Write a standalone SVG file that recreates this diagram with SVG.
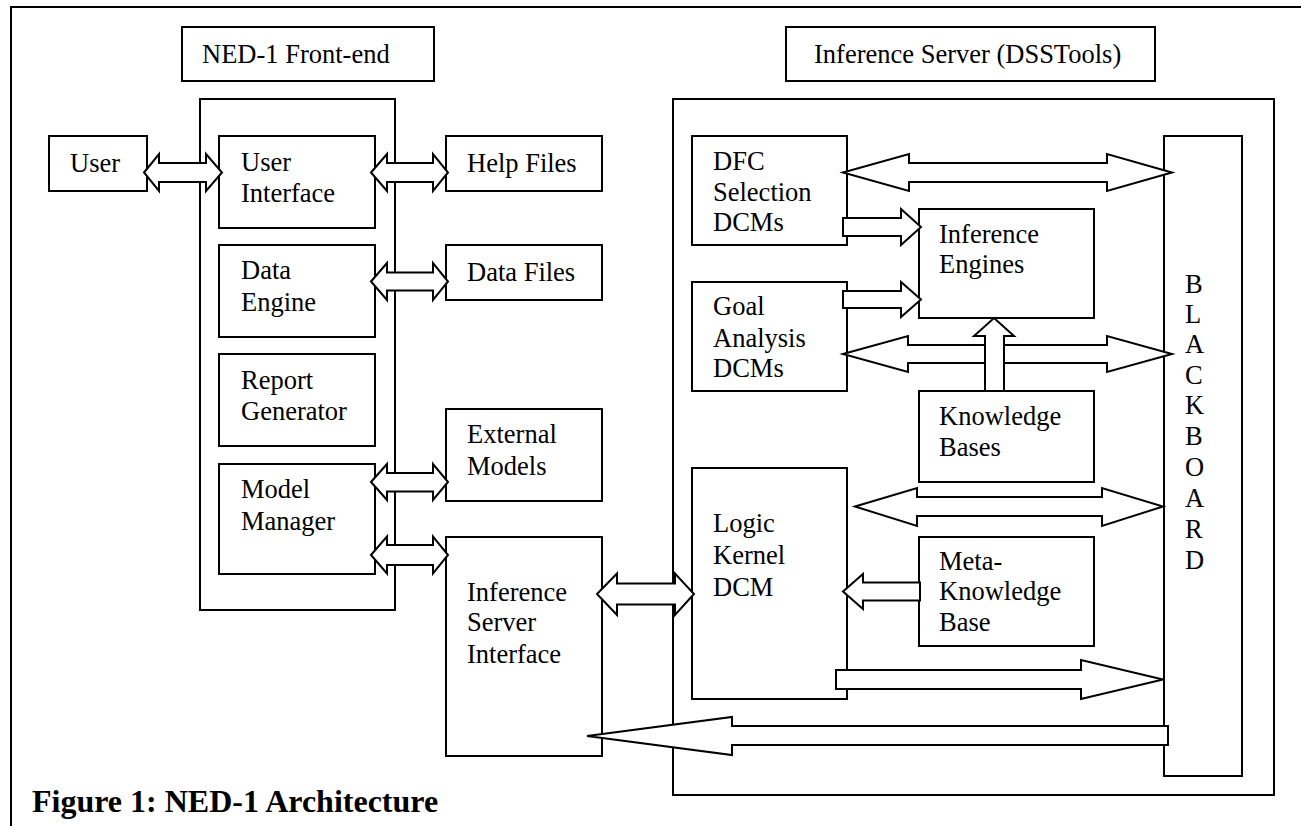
<svg xmlns="http://www.w3.org/2000/svg" width="1301" height="826" viewBox="0 0 1301 826">
<style>
rect,.ln{fill:none;stroke:#000;stroke-width:2}
.ar{fill:#fff;stroke:#000;stroke-width:2;stroke-linejoin:miter}
text{font-family:"Liberation Serif","Times New Roman",serif;font-size:26.5px;fill:#000}
.cap{font-weight:bold;font-size:32px}
</style>
<g id="frame">
<path class="ln" d="M11,826 V7 H1301"/>
</g>
<g id="title-frontend"><rect x="182" y="27" width="252" height="54"/><text x="202" y="63">NED-1 Front-end</text></g>
<g id="title-server"><rect x="786" y="27" width="369" height="54"/><text x="814" y="63">Inference Server (DSSTools)</text></g>
<g id="frontend-container"><rect x="200" y="99" width="195" height="511"/></g>
<g id="server-container"><rect x="673" y="99" width="601" height="696"/></g>
<g id="user"><rect x="49" y="136" width="98" height="55"/><text x="70" y="172">User</text></g>
<g id="user-interface"><rect x="219" y="136" width="156" height="92"/><text x="241" y="171">User</text><text x="241" y="202">Interface</text></g>
<g id="data-engine"><rect x="219" y="245" width="156" height="92"/><text x="241" y="279">Data</text><text x="241" y="311">Engine</text></g>
<g id="report-generator"><rect x="219" y="354" width="156" height="92"/><text x="241" y="389">Report</text><text x="241" y="420">Generator</text></g>
<g id="model-manager"><rect x="219" y="464" width="156" height="110"/><text x="241" y="498">Model</text><text x="241" y="530">Manager</text></g>
<g id="help-files"><rect x="446" y="136" width="156" height="55"/><text x="467" y="172">Help Files</text></g>
<g id="data-files"><rect x="446" y="245" width="156" height="55"/><text x="467" y="281">Data Files</text></g>
<g id="external-models"><rect x="446" y="409" width="156" height="92"/><text x="467" y="443">External</text><text x="467" y="475">Models</text></g>
<g id="inference-server-interface"><rect x="446" y="537" width="156" height="219"/><text x="467" y="601">Inference</text><text x="467" y="631">Server</text><text x="467" y="663">Interface</text></g>
<g id="dfc-selection"><rect x="692" y="136" width="155" height="109"/><text x="713" y="170">DFC</text><text x="713" y="201">Selection</text><text x="713" y="231">DCMs</text></g>
<g id="goal-analysis"><rect x="692" y="282" width="155" height="109"/><text x="713" y="315">Goal</text><text x="713" y="347">Analysis</text><text x="713" y="377">DCMs</text></g>
<g id="logic-kernel"><rect x="692" y="468" width="155" height="231"/><text x="713" y="532">Logic</text><text x="713" y="564">Kernel</text><text x="713" y="596">DCM</text></g>
<g id="inference-engines"><rect x="919" y="209" width="175" height="109"/><text x="939" y="243">Inference</text><text x="939" y="273">Engines</text></g>
<g id="knowledge-bases"><rect x="919" y="391" width="175" height="91"/><text x="939" y="425">Knowledge</text><text x="939" y="456">Bases</text></g>
<g id="meta-knowledge-base"><rect x="919" y="537" width="175" height="109"/><text x="939" y="570">Meta-</text><text x="939" y="600">Knowledge</text><text x="939" y="631">Base</text></g>
<g id="blackboard"><rect x="1164" y="136" width="78" height="640"/>
<text x="1185" y="293">B</text><text x="1185" y="323">L</text><text x="1185" y="353">A</text><text x="1185" y="384">C</text><text x="1185" y="414">K</text><text x="1185" y="445">B</text><text x="1185" y="476">O</text><text x="1185" y="507">A</text><text x="1185" y="538">R</text><text x="1185" y="569">D</text></g>
<g id="connectors">
<polygon class="ar" points="144,172.5 159,154 159,163 206,163 206,154 222,172.5 206,191 206,182 159,182 159,191"/>
<polygon class="ar" points="371,172.5 387,154 387,163 433,163 433,154 448,172.5 433,191 433,182 387,182 387,191"/>
<polygon class="ar" points="371,281.5 387,263 387,272.5 433,272.5 433,263 448,281.5 433,300 433,290.5 387,290.5 387,300"/>
<polygon class="ar" points="371,482 387,464 387,473 433,473 433,464 448,482 433,500 433,491.5 387,491.5 387,500"/>
<polygon class="ar" points="371,555 387,536.5 387,545 433,545 433,536.5 448,555 433,573.5 433,565 387,565 387,573.5"/>
<polygon class="ar" points="843,172.5 909,154 909,163 1107,163 1107,154 1172,172.5 1107,191 1107,182 909,182 909,191"/>
<polygon class="ar" points="843,227 843,218 901,218 901,209 921,227 901,245 901,236 843,236"/>
<polygon class="ar" points="843,299.5 843,291 901,291 901,282 921,299.5 901,317 901,308 843,308"/>
<polygon class="ar" points="843,354 908,336 908,345 1107,345 1107,336 1172,354 1107,372 1107,363 908,363 908,372"/>
<polygon class="ar" points="994,318 1014,336 1004,336 1004,391 985,391 985,336 974,336"/>
<polygon class="ar" points="855,506.5 917,488 917,497 1102,497 1102,488 1163,506.5 1102,526 1102,516 917,516 917,526"/>
<polygon class="ar" points="843,591.5 863,574 863,582.5 920,582.5 920,600.5 863,600.5 863,609"/>
<polygon class="ar" points="836,670 1081,670 1081,660 1163,679.5 1081,699 1081,689 836,689"/>
<polygon class="ar" points="597,594 617,573.5 617,583.5 675,583.5 675,573.5 694,594 675,615 675,604.5 617,604.5 617,615"/>
<polygon class="ar" points="587,736 732,717 732,726 1168,726 1168,745 732,745 732,755"/>
</g>
<g id="caption"><text class="cap" x="32" y="812">Figure 1: NED-1 Architecture</text></g>
</svg>
